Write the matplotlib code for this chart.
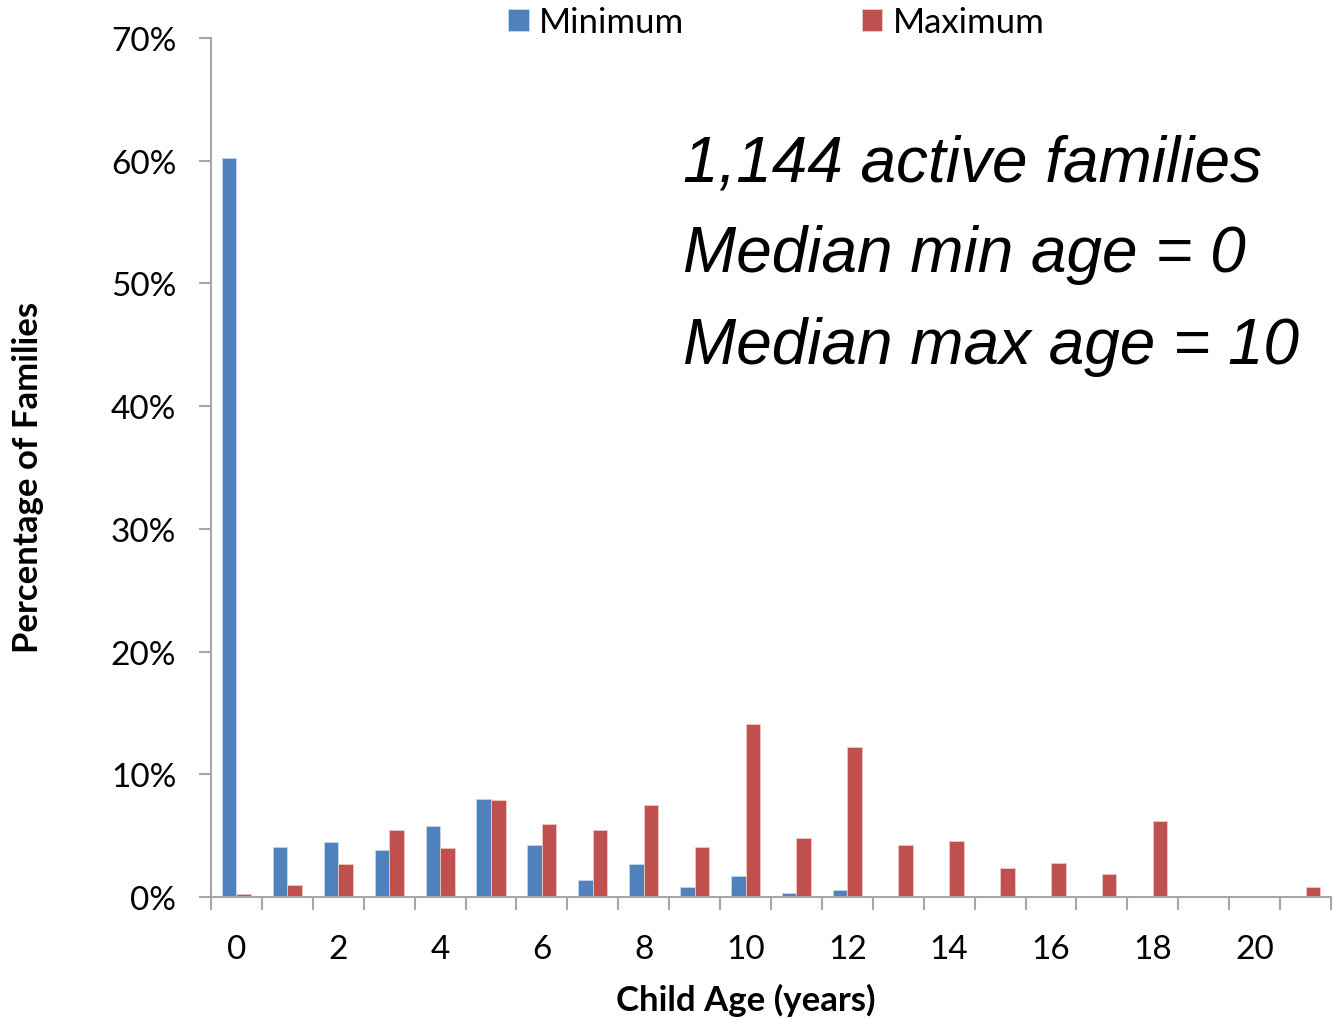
import matplotlib
matplotlib.use("Agg")
import matplotlib.pyplot as plt
import numpy as np
from matplotlib.ticker import FuncFormatter, MultipleLocator

ages = list(range(22))
minimum = [60.2, 4.07, 4.45, 3.83, 5.79, 8.0, 4.21, 1.39, 2.72, 0.78, 1.74, 0.3,
           0.6, 0.12, 0.12, 0, 0, 0, 0, 0, 0, 0]
maximum = [0.27, 1.0, 2.7, 5.43, 3.97, 7.88, 5.92, 5.43, 7.52, 4.07, 14.13, 4.8,
           12.2, 4.21, 4.56, 2.34, 2.74, 1.87, 6.17, 0.12, 0, 0.78]
xtick_labels = [str(a) for a in range(0, 21, 2)]
annotation = ["1,144 active families", "Median min age = 0", "Median max age = 10"]

plt.rcParams['font.family'] = ['Lato', 'DejaVu Sans']

W, H = 1333, 1020
fig = plt.figure(figsize=(W/100, H/100), dpi=100)
ax = fig.add_axes([211/W, 122/H, 1120/W, 859/H])

x = np.array(ages)
w = 0.286
ax.bar(x - w/2, minimum, width=w, color='#4F81BD', edgecolor='#C9D7EA', linewidth=0.6, label='Minimum')
ax.bar(x + w/2, maximum, width=w, color='#C0504D', edgecolor='#EBC8C7', linewidth=0.6, label='Maximum')

ax.set_xlim(-0.5, 21.5)
ax.set_ylim(0, 70)
ax.yaxis.set_major_locator(MultipleLocator(10))
ax.yaxis.set_major_formatter(FuncFormatter(lambda v, p: f"{int(round(v))}%"))
ax.set_xticks(range(0, 21, 2))
ax.set_xticklabels(xtick_labels)
ax.set_xticks(np.arange(-0.5, 22, 1), minor=True)
ax.tick_params(axis='x', which='major', length=0, labelsize=24, pad=27)
ax.tick_params(axis='x', which='minor', length=9, width=1.5, color='#A6A6A6', direction='out')
ax.tick_params(axis='y', which='major', length=9, width=1.5, color='#A6A6A6', labelsize=24, pad=16)

for s in ['top', 'right']:
    ax.spines[s].set_visible(False)
for s in ['left', 'bottom']:
    ax.spines[s].set_color('#A6A6A6')
    ax.spines[s].set_linewidth(1.5)

fig.text(746/W, 1 - 1011/H, 'Child Age (years)', fontsize=25, fontweight='bold',
         ha='center', va='baseline')
fig.text(28/W, 1 - 477/H, 'Percentage of Families', fontsize=25, fontweight='bold',
         ha='center', va='center', rotation=90)

handles, labels = ax.get_legend_handles_labels()
fig.legend(handles, labels, loc='center left', bbox_to_anchor=(508/W, 1 - 23/H), ncol=2,
           frameon=False, fontsize=25, handlelength=0.6, handleheight=0.6,
           handletextpad=0.3, columnspacing=5.1, borderpad=0, borderaxespad=0)

baselines = [181, 272, 364]
for line, yb in zip(annotation, baselines):
    fig.text(683/W, 1 - yb/H, line, fontsize=46, style='italic',
             family=['Liberation Sans', 'DejaVu Sans'], ha='left', va='baseline')

fig.savefig('out.png', dpi=100)
